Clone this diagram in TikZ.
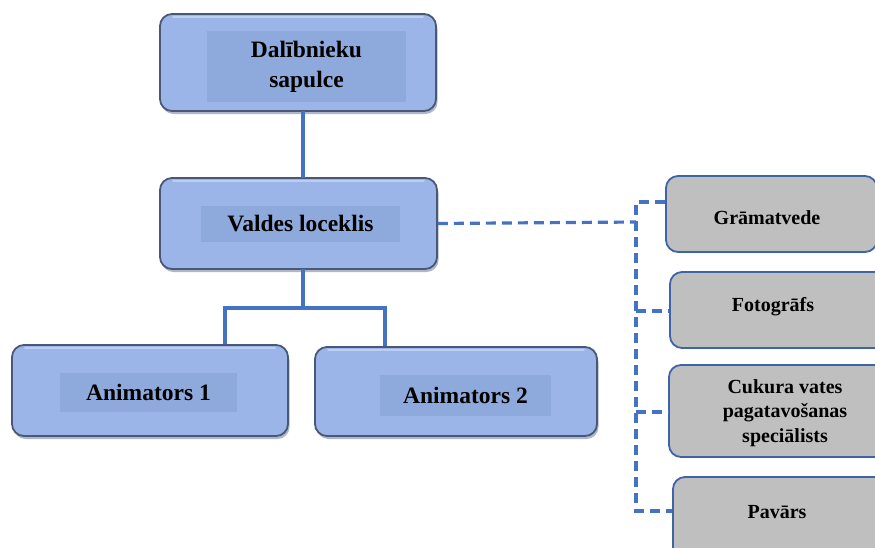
\documentclass[tikz,border=0pt]{standalone}
\usepackage{fontspec}
\setmainfont{Liberation Serif}
\usetikzlibrary{positioning,calc}
\definecolor{boxblue}{HTML}{9BB5E8}
\definecolor{innerblue}{HTML}{8EA9DB}
\definecolor{boxedge}{HTML}{4A5878}
\definecolor{shadowc}{HTML}{5F6F90}
\definecolor{linkblue}{HTML}{4472C4}
\definecolor{graybox}{HTML}{BFBFBF}
\definecolor{grayedge}{HTML}{3F63A8}
\tikzset{
  bluebox/.style={draw=boxedge, line width=1.8pt, rounded corners=12pt, fill=boxblue, minimum height=91pt, inner sep=0pt},
  innerbox/.style={fill=innerblue, inner sep=0pt, font=\bfseries\fontsize{23.5}{30}\selectfont, align=center},
  graybx/.style={draw=grayedge, line width=1.8pt, rounded corners=12pt, fill=graybox, inner sep=0pt},
  graytext/.style={font=\bfseries\fontsize{20}{24.5}\selectfont, align=center},
  solidlink/.style={draw=linkblue, line width=4pt},
  dashlink/.style={draw=linkblue, line width=3.2pt, dash pattern=on 10pt off 6pt},
}
\begin{document}
\begin{tikzpicture}[x=1pt,y=-1pt]
\useasboundingbox (0,0) rectangle (875,547);
% coordinates for connectors
\coordinate (c0) at (303,111);
\coordinate (c1) at (303,178);
\coordinate (c2) at (303,269);
\coordinate (jm) at (303,308);
\coordinate (j1) at (225,308);
\coordinate (j2) at (385,308);
\coordinate (dv) at (636,222);
% blue boxes (with shadow)
\foreach \x/\y/\w/\h in {160/14/276/97, 160/178/277/91, 12/345/276/91, 315/347/282/89}{
  \fill[shadowc, opacity=0.5, rounded corners=12pt] (\x+1.5,\y+3) rectangle ++(\w,\h);
}
\node[bluebox, minimum width=276pt, minimum height=97pt] (dal) at (298,62.5) {};
\node[bluebox, minimum width=277pt] (val) at (298.5,223.5) {};
\node[bluebox, minimum width=276pt] (a1) at (150,390.5) {};
\node[bluebox, minimum width=282pt, minimum height=89pt] (a2) at (456,391.5) {};
% top highlight
\foreach \n in {dal,val,a1,a2}{
  \draw[white, opacity=0.35, line width=2pt, line cap=round] ([xshift=14pt,yshift=-4pt]\n.north west) -- ([xshift=-14pt,yshift=-4pt]\n.north east);
}
% inner labels
\node[innerbox, minimum width=199pt, minimum height=71pt] (dalt) at (306.5,66.5) {Dalībnieku\\sapulce};
\node[innerbox, minimum width=199pt, minimum height=36pt] (valt) at (300.5,224) {Valdes loceklis};
\node[innerbox, minimum width=177pt, minimum height=39pt] (a1t) at (148.5,392.5) {Animators 1};
\node[innerbox, minimum width=171pt, minimum height=41pt] (a2t) at (465.5,395.5) {Animators 2};
% gray boxes
\node[graybx, minimum width=211pt, minimum height=76pt] (g1) at (771.5,214) {};
\node[graybx, minimum width=230pt, minimum height=76pt] (g2) at (785,310) {};
\node[graybx, minimum width=230pt, minimum height=92pt] (g3) at (784,411) {};
\node[graybx, minimum width=230pt, minimum height=90pt] (g4) at (788,522) {};
\node[graytext] (g1t) at (767,218) {Grāmatvede};
\node[graytext] (g2t) at (773,307) {Fotogrāfs};
\node[graytext] (g3t) at (785,413) {Cukura vates\\pagatavošanas\\speciālists};
\node[graytext] (g4t) at (777,512) {Pavārs};
% solid connectors
\draw[solidlink] (c0) -- (c1);
\draw[solidlink] (c2) -- (jm);
\draw[solidlink] (j1 |- a1.north) -- (j1) -- (j2) -- (j2 |- a2.north);
% dashed connectors
\draw[dashlink] (val.east) -- (dv);
\draw[dashlink] (g1.west |- 0,202) -- (636,202) -- (636,511) -- (g4.west |- 0,511);
\draw[dashlink] (636,311) -- (g2.west |- 0,311);
\draw[dashlink] (636,412) -- (g3.west |- 0,412);
\end{tikzpicture}
\end{document}
